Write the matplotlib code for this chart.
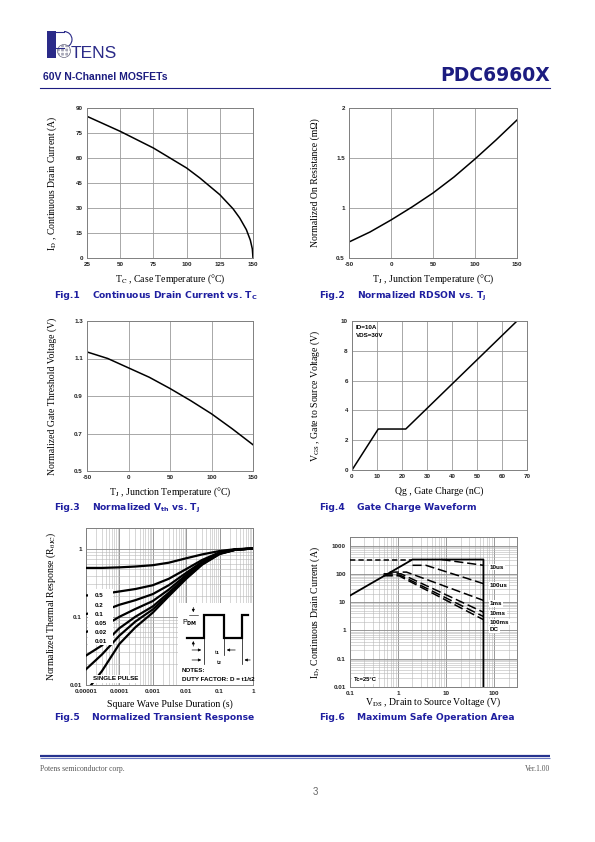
import numpy as np
import matplotlib.pyplot as plt
import matplotlib.ticker as mticker
from matplotlib.patches import Rectangle, Circle, Arc

plt.rcParams['font.family'] = ['Liberation Sans', 'DejaVu Sans']
plt.rcParams['mathtext.fontset'] = 'custom'
plt.rcParams['mathtext.rm'] = 'DejaVu Sans:bold'
plt.rcParams['mathtext.it'] = 'DejaVu Sans:bold'
plt.rcParams['mathtext.bf'] = 'DejaVu Sans:bold'

SERIF = ['Liberation Serif', 'DejaVu Serif']
NARROW = ['Liberation Sans Narrow', 'Liberation Sans', 'DejaVu Sans']
NAVY = '#1c1c80'
CAP_BLUE = '#1e1ea0'
GRID = '#9a9a9a'
SPINE = '#808080'

# Fig.1  drain current vs case temperature
tc = [25, 50, 75, 100, 110, 125, 135, 140, 145, 148, 149.5, 150]
id_tc = [85, 76, 66, 54, 48, 38, 29.5, 24, 17, 10.7, 5.4, 0]
# Fig.2 / Fig.3  vs junction temperature
tj = [-50, -25, 0, 25, 50, 75, 100, 125, 150]
rdson_norm = [0.66, 0.76, 0.88, 1.01, 1.15, 1.31, 1.49, 1.68, 1.88]
vth_norm = [1.135, 1.10, 1.05, 1.0, 0.94, 0.875, 0.805, 0.725, 0.64]
# Fig.4  gate charge
qg = [0, 10.5, 21.5, 66]
vgs = [0, 2.75, 2.75, 10]
# Fig.5  transient thermal response
t_pulse = [1e-5, 3e-5, 1e-4, 3e-4, 1e-3, 3e-3, 1e-2, 3e-2, 0.1, 0.3, 1]
zth_d05 = [0.52, 0.52, 0.53, 0.545, 0.57, 0.62, 0.72, 0.82, 0.92, 0.98, 1.0]
zth_d02 = [0.205, 0.215, 0.235, 0.255, 0.29, 0.36, 0.50, 0.68, 0.88, 0.97, 1.0]
zth_d01 = [0.11, 0.12, 0.15, 0.175, 0.215, 0.29, 0.44, 0.64, 0.865, 0.97, 1.0]
zth_d005 = [0.06, 0.07, 0.10, 0.13, 0.17, 0.25, 0.41, 0.62, 0.855, 0.965, 1.0]
zth_d002 = [0.027, 0.038, 0.068, 0.10, 0.142, 0.225, 0.385, 0.60, 0.845, 0.965, 1.0]
zth_d001 = [0.017, 0.028, 0.053, 0.085, 0.128, 0.21, 0.37, 0.59, 0.84, 0.96, 1.0]
zth_single = [0.008, 0.016, 0.04, 0.07, 0.115, 0.2, 0.36, 0.58, 0.83, 0.96, 1.0]
duty_labels = ['0.5', '0.2', '0.1', '0.05', '0.02', '0.01']
# Fig.6  safe operating area
soa_lim_v = [0.1, 2, 60, 60]
soa_lim_i = [17, 320, 320, 0.01]
soa_top_v = [0.1, 2]
soa_top_i = [320, 320]
soa_10us_v = [8, 60]
soa_10us_i = [320, 200]
soa_100us_v = [2, 3.8, 60]
soa_100us_i = [200, 200, 45]
soa_1ms_v = [0.67, 1.5, 60]
soa_1ms_i = [115, 115, 11.5]
soa_10ms_v = [0.5, 1.15, 60]
soa_10ms_i = [100, 100, 4.4]
soa_100ms_v = [0.5, 1.1, 60]
soa_100ms_i = [90, 90, 3.1]
soa_dc_v = [0.5, 1.05, 60]
soa_dc_i = [85, 85, 2.4]
soa_labels = ['10us', '100us', '1ms', '10ms', '100ms', 'DC']
soa_label_i = [172, 39, 8.8, 3.9, 1.97, 1.06]

W, H = 595, 842
fig = plt.figure(figsize=(5.95, 8.42), dpi=100)


def px_axes(l, t, r, b, **kw):
    return fig.add_axes([l / W, 1 - b / H, (r - l) / W, (b - t) / H], **kw)


def style(ax, xticks, xlabels, yticks, ylabels, xlab, ylab, xl_y, yl_x):
    ax.set_xticks(xticks, xlabels, fontweight='bold')
    ax.set_yticks(yticks, ylabels, fontweight='bold')
    ax.tick_params(which='both', length=0, labelsize=4.5, pad=3, colors='#222222')
    for s in ax.spines.values():
        s.set_color(SPINE)
        s.set_linewidth(0.7)
    ax.set_xlabel(xlab, family=SERIF, fontsize=7, math_fontfamily='stix', va='center')
    ax.set_ylabel(ylab, family=SERIF, fontsize=7, math_fontfamily='stix', va='center')
    ax.xaxis.set_label_coords(0.5, xl_y)
    ax.yaxis.set_label_coords(yl_x, 0.5)


# ---- Fig.1
ax1 = px_axes(87, 108, 253, 258)
ax1.plot(tc, id_tc, color='black', lw=1.1)
ax1.set_xlim(25, 150)
ax1.set_ylim(0, 90)
ax1.grid(color=GRID, lw=0.6)
style(ax1, [25, 50, 75, 100, 125, 150], ['25', '50', '75', '100', '125', '150'],
      [0, 15, 30, 45, 60, 75, 90], ['0', '15', '30', '45', '60', '75', '90'],
      r'T$_\mathrm{C}$ , Case Temperature (°C)',
      r'I$_\mathrm{D}$ , Continuous Drain Current (A)', -0.14, -0.21)

# ---- Fig.2
ax2 = px_axes(349, 108, 517, 258)
ax2.plot(tj, rdson_norm, color='black', lw=1.1)
ax2.set_xlim(-50, 150)
ax2.set_ylim(0.5, 2)
ax2.grid(color=GRID, lw=0.6)
style(ax2, [-50, 0, 50, 100, 150], ['-50', '0', '50', '100', '150'],
      [0.5, 1, 1.5, 2], ['0.5', '1', '1.5', '2'],
      r'T$_\mathrm{J}$ , Junction Temperature (°C)',
      'Normalized On Resistance (mΩ)', -0.14, -0.2)

# ---- Fig.3
ax3 = px_axes(87, 321, 253, 471)
ax3.plot(tj, vth_norm, color='black', lw=1.1)
ax3.set_xlim(-50, 150)
ax3.set_ylim(0.5, 1.3)
ax3.grid(color=GRID, lw=0.6)
style(ax3, [-50, 0, 50, 100, 150], ['-50', '0', '50', '100', '150'],
      [0.5, 0.7, 0.9, 1.1, 1.3], ['0.5', '0.7', '0.9', '1.1', '1.3'],
      r'T$_\mathrm{J}$ , Junction Temperature (°C)',
      'Normalized Gate Threshold Voltage (V)', -0.14, -0.21)

# ---- Fig.4
ax4 = px_axes(352, 321, 527, 470)
ax4.plot(qg, vgs, color='black', lw=1.1)
ax4.set_xlim(0, 70)
ax4.set_ylim(0, 10)
ax4.grid(color=GRID, lw=0.6)
style(ax4, list(range(0, 71, 10)), [str(v) for v in range(0, 71, 10)],
      list(range(0, 11, 2)), [str(v) for v in range(0, 11, 2)],
      'Qg , Gate Charge (nC)',
      r'V$_\mathrm{GS}$ , Gate to Source Voltage (V)', -0.145, -0.21)
ax4.text(0.02, 0.97, 'ID=10A\nVDS=30V', transform=ax4.transAxes, fontsize=4.5,
         fontweight='bold', va='top', linespacing=1.6)

# ---- Fig.5
ax5 = px_axes(86, 528, 253, 685)
ax5.set_xscale('log')
ax5.set_yscale('log')
for z in [zth_d05, zth_d02, zth_d01, zth_d005, zth_d002, zth_d001, zth_single]:
    ax5.plot(t_pulse, z, color='black', lw=1.6, zorder=3)
ax5.set_xlim(1e-5, 1)
ax5.set_ylim(0.01, 2)
for a in (ax5.xaxis, ax5.yaxis):
    a.set_minor_locator(mticker.LogLocator(base=10, subs=np.arange(2, 10), numticks=100))
    a.set_minor_formatter(mticker.NullFormatter())
ax5.grid(which='major', color='#888888', lw=0.6)
ax5.grid(which='minor', color='#b8b8b8', lw=0.4)
style(ax5, [1e-5, 1e-4, 1e-3, 1e-2, 0.1, 1],
      ['0.00001', '0.0001', '0.001', '0.01', '0.1', '1'],
      [0.01, 0.1, 1], ['0.01', '0.1', '1'],
      'Square Wave Pulse Duration (s)',
      r'Normalized Thermal Response (R$_{\mathrm{\theta JC}}$)', -0.12, -0.21)
ax5.add_patch(Rectangle((0.012, 0.256), 0.15, 0.355, transform=ax5.transAxes,
                        facecolor='white', edgecolor='none', zorder=4))
for i, lab in enumerate(duty_labels):
    ax5.text(0.05, 0.567 - i * 0.0585, lab, transform=ax5.transAxes, fontsize=4.5,
             fontweight='bold', family=NARROW, va='center', zorder=5)
ax5.text(0.04, 0.04, 'SINGLE PULSE', transform=ax5.transAxes, fontsize=4.5,
         fontweight='bold', family=NARROW, va='center', zorder=5,
         bbox=dict(facecolor='white', edgecolor='none', pad=1.2))

# pulse diagram inset
ins = px_axes(178, 603, 253, 685, zorder=6)
ins.set_xlim(0, 1)
ins.set_ylim(0, 1)
ins.axis('off')
ins.add_patch(Rectangle((0, 0), 1, 1, facecolor='white', edgecolor='none'))
wave_t = [0.116, 0.347, 0.347, 0.613, 0.613, 0.849, 0.849, 0.937]
wave_v = [0.57, 0.57, 0.854, 0.854, 0.57, 0.57, 0.854, 0.854]
ins.plot(wave_t, wave_v, color='black', lw=1.6, solid_joinstyle='miter')
for xv, y0 in [(0.347, 0.26), (0.613, 0.37), (0.849, 0.26)]:
    ins.plot([xv, xv], [y0, 0.57], color='black', lw=0.5)
arw = dict(arrowstyle='-|>', color='black', lw=0.5, mutation_scale=4)
ins.annotate('', xy=(0.204, 0.854), xytext=(0.204, 0.98), arrowprops=arw)
ins.annotate('', xy=(0.204, 0.57), xytext=(0.204, 0.44), arrowprops=arw)
ins.plot([0.14, 0.26], [0.854, 0.854], color='black', lw=0.4)
ins.annotate('', xy=(0.347, 0.427), xytext=(0.15, 0.427), arrowprops=arw)
ins.annotate('', xy=(0.613, 0.427), xytext=(0.80, 0.427), arrowprops=arw)
ins.annotate('', xy=(0.347, 0.305), xytext=(0.15, 0.305), arrowprops=arw)
ins.annotate('', xy=(0.849, 0.305), xytext=(1.0, 0.305), arrowprops=arw)
ins.text(0.05, 0.76, r'P$_{\mathrm{DM}}$', fontsize=5, va='center', family=NARROW)
ins.text(0.48, 0.40, r't$_1$', fontsize=4.5, va='center', family=NARROW)
ins.text(0.51, 0.275, r't$_2$', fontsize=4.5, va='center', family=NARROW)
ins.text(0.05, 0.174, 'NOTES:', fontsize=4.5, fontweight='bold', va='center', family=NARROW)
ins.text(0.05, 0.073, 'DUTY FACTOR: D = t1/t2', fontsize=4.5, fontweight='bold',
         va='center', family=NARROW)

# ---- Fig.6
ax6 = px_axes(350, 537, 517, 687)
ax6.set_xscale('log')
ax6.set_yscale('log')
ax6.plot(soa_lim_v, soa_lim_i, color='black', lw=1.3, zorder=3)
ax6.plot(soa_top_v, soa_top_i, color='black', lw=1.1, dashes=(3.5, 2), zorder=3)
for v, i in [(soa_10us_v, soa_10us_i), (soa_100us_v, soa_100us_i),
             (soa_1ms_v, soa_1ms_i), (soa_10ms_v, soa_10ms_i),
             (soa_100ms_v, soa_100ms_i), (soa_dc_v, soa_dc_i)]:
    ax6.plot(v, i, color='black', lw=1.1, dashes=(6, 2.5), zorder=3)
ax6.set_xlim(0.1, 300)
ax6.set_ylim(0.01, 2000)
for a in (ax6.xaxis, ax6.yaxis):
    a.set_minor_locator(mticker.LogLocator(base=10, subs=np.arange(2, 10), numticks=100))
    a.set_minor_formatter(mticker.NullFormatter())
ax6.grid(which='major', color='#888888', lw=0.6)
ax6.grid(which='minor', color='#b8b8b8', lw=0.4)
style(ax6, [0.1, 1, 10, 100], ['0.1', '1', '10', '100'],
      [0.01, 0.1, 1, 10, 100, 1000], ['0.01', '0.1', '1', '10', '100', '1000'],
      r'V$_\mathrm{DS}$ , Drain to Source Voltage (V)',
      r'I$_\mathrm{D}$, Continuous Drain Current (A)', -0.1, -0.21)
for lab, yv in zip(soa_labels, soa_label_i):
    ax6.text(82, yv, lab, fontsize=4.5, fontweight='bold', va='center', zorder=5,
             bbox=dict(facecolor='white', edgecolor='none', pad=0.6))
ax6.text(0.12, 0.018, 'Tc=25°C', fontsize=4.2, fontweight='bold', va='center', zorder=5,
         bbox=dict(facecolor='white', edgecolor='none', pad=1.0))

# ---- page decoration (pixel coordinates)
bg = fig.add_axes([0, 0, 1, 1], zorder=-1)
bg.set_xlim(0, W)
bg.set_ylim(H, 0)
bg.axis('off')

# logo
LOGO = '#2a2a88'
bg.add_patch(Rectangle((47, 31), 9, 27, facecolor=LOGO, edgecolor='none'))
bg.plot([56, 64], [31.5, 31.5], color=LOGO, lw=0.8)
bg.plot([56, 64], [47.5, 47.5], color=LOGO, lw=0.8)
bg.add_patch(Arc((64, 39.5), 16, 16, theta1=-90, theta2=90, color=LOGO, lw=0.8))
bg.add_patch(Circle((64, 51), 6.5, facecolor='#a8a8b8', edgecolor='white', hatch='++++', lw=0))
bg.add_patch(Circle((64, 51), 6.5, facecolor='none', edgecolor='#707088', lw=0.5))
bg.text(71, 58, 'TENS', fontsize=12.5, color=LOGO, family=NARROW, va='baseline')

bg.text(43, 80, '60V N-Channel MOSFETs', fontsize=7.5, fontweight='bold', color=NAVY,
        va='baseline')
bg.text(550, 81, 'PDC6960X', fontsize=13.5, fontweight='bold', color=NAVY,
        family='DejaVu Sans', ha='right', va='baseline')
bg.plot([40, 550], [88, 88], color=NAVY, lw=0.8)


def caption(x, y, num, txt):
    bg.text(x, y, num, fontsize=6.6, fontweight='bold', color=CAP_BLUE,
            family='DejaVu Sans', va='center')
    bg.text(x + 38, y, txt, fontsize=6.6, fontweight='bold', color=CAP_BLUE,
            family='DejaVu Sans', va='center')


caption(54, 296, 'Fig.1', r'Continuous Drain Current vs. T$_\mathrm{C}$')
caption(319, 296, 'Fig.2', r'Normalized RDSON vs. T$_\mathrm{J}$')
caption(54, 508, 'Fig.3', r'Normalized V$_\mathrm{th}$ vs. T$_\mathrm{J}$')
caption(319, 508, 'Fig.4', 'Gate Charge Waveform')
caption(54, 718, 'Fig.5', 'Normalized Transient Response')
caption(319, 718, 'Fig.6', 'Maximum Safe Operation Area')

bg.plot([40, 550], [756, 756], color='#26338f', lw=1.6, solid_capstyle='butt')
bg.plot([40, 550], [757.5, 757.5], color='#6a78c0', lw=0.8, solid_capstyle='butt')
bg.text(40, 769, 'Potens semiconductor corp.', fontsize=5.5, color='#555555',
        family=SERIF, va='center')
bg.text(550, 769, 'Ver.1.00', fontsize=5.5, color='#555555', family=SERIF,
        ha='right', va='center')
bg.text(315, 792, '3', fontsize=7, color='#666666', ha='center', va='center')

fig.savefig('out.png', dpi=100)
